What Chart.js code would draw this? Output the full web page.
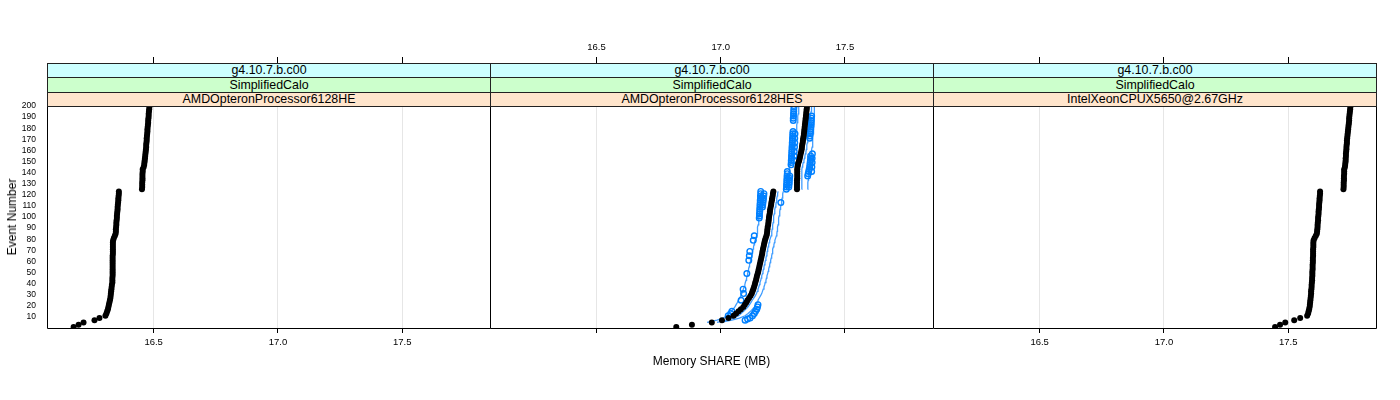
<!DOCTYPE html>
<html>
<head>
<meta charset="utf-8">
<title>Memory SHARE (MB)</title>
<script src="https://cdn.jsdelivr.net/npm/chart.js@4/dist/chart.umd.min.js"></script>
<style>
  body { margin: 0; background: #fff; font-family: "Liberation Sans", Arial, sans-serif; }
  #wrap { position: relative; width: 1400px; height: 400px; overflow: hidden; background: #fff; }
  #wrap canvas { position: absolute; top: 30px; }
  .strip { position: absolute; box-sizing: border-box; border: 1px solid #222; text-align: center;
           font-size: 12.4px; color: #000; white-space: nowrap; }
  .xtitle { position: absolute; left: 47px; width: 1329px; top: 354px; text-align: center; font-size: 12px; }
  .ytitle { position: absolute; left: 12px; top: 217px; font-size: 12px; white-space: nowrap;
            transform: translate(-50%, -50%) rotate(-90deg); }
</style>
</head>
<body>
<div id="wrap"></div>
<script>
// strip labels, one per panel
const versions = ['g4.10.7.b.c00', 'g4.10.7.b.c00', 'g4.10.7.b.c00'];
const configs = ['SimplifiedCalo', 'SimplifiedCalo', 'SimplifiedCalo'];
const processors = ['AMDOpteronProcessor6128HE', 'AMDOpteronProcessor6128HES', 'IntelXeonCPUX5650@2.67GHz'];

// axis ticks
const memTicks = [16.5, 17.0, 17.5];
const eventTicks = [10, 20, 30, 40, 50, 60, 70, 80, 90, 100, 110, 120, 130, 140, 150, 160, 170, 180, 190, 200];

// event numbers (every other event)
const events = [1, 3, 5, 7, 9, 11, 13, 15, 17, 19, 21, 23, 25, 27, 29, 31, 33, 35, 37, 39,
  41, 43, 45, 47, 49, 51, 53, 55, 57, 59, 61, 63, 65, 67, 69, 71, 73, 75, 77, 79,
  81, 83, 85, 87, 89, 91, 93, 95, 97, 99, 101, 103, 105, 107, 109, 111, 113, 115, 117, 119,
  121, 123, 125, 127, 129, 131, 133, 135, 137, 139, 141, 143, 145, 147, 149, 151, 153, 155, 157, 159,
  161, 163, 165, 167, 169, 171, 173, 175, 177, 179, 181, 183, 185, 187, 189, 191, 193, 195, 197, 199];

// memory share (MB) per event, reference run
const memHE = [16.178, 16.198, 16.218, 16.262, 16.282, 16.306, 16.310, 16.313, 16.316, 16.318,
  16.320, 16.322, 16.324, 16.326, 16.327, 16.328, 16.329, 16.330, 16.331, 16.332,
  16.334, 16.334, 16.334, 16.335, 16.335, 16.335, 16.335, 16.335, 16.335, 16.335,
  16.335, 16.335, 16.335, 16.336, 16.336, 16.336, 16.336, 16.336, 16.336, 16.337,
  16.340, 16.344, 16.347, 16.348, 16.348, 16.349, 16.350, 16.350, 16.351, 16.352,
  16.352, 16.353, 16.354, 16.355, 16.355, 16.356, 16.357, 16.358, 16.358, 16.359,
  16.360, 16.360, 16.453, 16.454, 16.454, 16.454, 16.455, 16.455, 16.455, 16.455,
  16.456, 16.456, 16.460, 16.462, 16.463, 16.464, 16.465, 16.466, 16.467, 16.468,
  16.469, 16.470, 16.470, 16.471, 16.472, 16.472, 16.473, 16.474, 16.475, 16.475,
  16.476, 16.477, 16.478, 16.478, 16.479, 16.480, 16.480, 16.481, 16.482, 16.483];

const memHES = [16.821, 16.884, 16.964, 17.005, 17.031, 17.052, 17.062, 17.072, 17.081, 17.091,
  17.097, 17.103, 17.108, 17.114, 17.120, 17.125, 17.128, 17.131, 17.134, 17.137,
  17.139, 17.142, 17.144, 17.146, 17.149, 17.151, 17.153, 17.155, 17.157, 17.159,
  17.161, 17.163, 17.165, 17.167, 17.168, 17.170, 17.172, 17.174, 17.176, 17.178,
  17.181, 17.184, 17.186, 17.187, 17.188, 17.189, 17.191, 17.192, 17.193, 17.194,
  17.195, 17.197, 17.198, 17.199, 17.201, 17.203, 17.204, 17.206, 17.207, 17.209,
  17.210, 17.212, 17.307, 17.307, 17.307, 17.307, 17.307, 17.308, 17.308, 17.308,
  17.308, 17.308, 17.309, 17.311, 17.313, 17.316, 17.318, 17.320, 17.322, 17.324,
  17.326, 17.327, 17.328, 17.330, 17.331, 17.332, 17.334, 17.335, 17.336, 17.337,
  17.338, 17.339, 17.340, 17.341, 17.342, 17.343, 17.344, 17.345, 17.346, 17.347];

const memX5650 = [17.447, 17.467, 17.488, 17.524, 17.548, 17.576, 17.580, 17.582, 17.584, 17.586,
  17.587, 17.588, 17.589, 17.590, 17.591, 17.592, 17.592, 17.593, 17.594, 17.594,
  17.595, 17.596, 17.596, 17.597, 17.597, 17.597, 17.598, 17.598, 17.598, 17.599,
  17.599, 17.599, 17.600, 17.600, 17.600, 17.600, 17.601, 17.601, 17.601, 17.602,
  17.606, 17.611, 17.615, 17.616, 17.617, 17.618, 17.618, 17.619, 17.620, 17.620,
  17.621, 17.622, 17.622, 17.623, 17.624, 17.624, 17.625, 17.626, 17.626, 17.627,
  17.628, 17.628, 17.722, 17.723, 17.723, 17.723, 17.724, 17.724, 17.724, 17.725,
  17.725, 17.725, 17.728, 17.729, 17.730, 17.731, 17.731, 17.732, 17.732, 17.733,
  17.734, 17.734, 17.735, 17.736, 17.736, 17.737, 17.738, 17.739, 17.740, 17.741,
  17.742, 17.743, 17.744, 17.745, 17.745, 17.746, 17.747, 17.748, 17.749, 17.750];

// other runs on the HES machine (blue lines)
const memHESrunA = [16.810, 16.870, 16.945, 16.985, 17.010, 17.025, 17.035, 17.043, 17.050, 17.057,
  17.062, 17.067, 17.071, 17.076, 17.081, 17.085, 17.088, 17.091, 17.094, 17.097,
  17.099, 17.102, 17.104, 17.106, 17.108, 17.110, 17.112, 17.114, 17.116, 17.118,
  17.120, 17.122, 17.124, 17.126, 17.128, 17.130, 17.132, 17.134, 17.136, 17.138,
  17.141, 17.144, 17.146, 17.147, 17.148, 17.149, 17.151, 17.152, 17.153, 17.154,
  17.155, 17.157, 17.158, 17.159, 17.160, 17.162, 17.163, 17.164, 17.165, 17.166,
  17.167, 17.168, 17.268, 17.268, 17.269, 17.270, 17.271, 17.272, 17.273, 17.274,
  17.275, 17.276, 17.278, 17.280, 17.282, 17.284, 17.286, 17.288, 17.290, 17.292,
  17.294, 17.295, 17.296, 17.298, 17.299, 17.300, 17.302, 17.303, 17.304, 17.305,
  17.306, 17.307, 17.308, 17.309, 17.310, 17.311, 17.312, 17.313, 17.314, 17.315];

const memHESrunB = [16.835, 16.900, 16.985, 17.025, 17.052, 17.072, 17.082, 17.092, 17.101, 17.110,
  17.116, 17.122, 17.127, 17.133, 17.139, 17.144, 17.147, 17.150, 17.153, 17.156,
  17.158, 17.161, 17.163, 17.165, 17.168, 17.170, 17.172, 17.174, 17.176, 17.178,
  17.180, 17.182, 17.184, 17.186, 17.187, 17.189, 17.191, 17.193, 17.195, 17.197,
  17.200, 17.203, 17.205, 17.206, 17.207, 17.208, 17.210, 17.211, 17.212, 17.213,
  17.214, 17.216, 17.217, 17.218, 17.220, 17.222, 17.223, 17.225, 17.226, 17.228,
  17.229, 17.231, 17.326, 17.326, 17.326, 17.326, 17.326, 17.327, 17.327, 17.327,
  17.327, 17.327, 17.328, 17.330, 17.332, 17.335, 17.337, 17.339, 17.341, 17.343,
  17.345, 17.346, 17.347, 17.349, 17.350, 17.351, 17.353, 17.354, 17.355, 17.356,
  17.357, 17.358, 17.359, 17.360, 17.361, 17.362, 17.363, 17.364, 17.365, 17.366];

const memHESrunC = [16.845, 16.915, 17.000, 17.045, 17.075, 17.098, 17.110, 17.120, 17.128, 17.136,
  17.141, 17.146, 17.150, 17.155, 17.160, 17.165, 17.168, 17.171, 17.174, 17.177,
  17.179, 17.182, 17.184, 17.186, 17.189, 17.191, 17.193, 17.195, 17.197, 17.199,
  17.201, 17.203, 17.205, 17.207, 17.208, 17.210, 17.212, 17.214, 17.216, 17.218,
  17.221, 17.224, 17.226, 17.227, 17.228, 17.229, 17.231, 17.232, 17.233, 17.234,
  17.235, 17.237, 17.238, 17.239, 17.241, 17.243, 17.244, 17.246, 17.247, 17.249,
  17.250, 17.252, 17.350, 17.350, 17.351, 17.351, 17.352, 17.352, 17.353, 17.353,
  17.354, 17.354, 17.355, 17.357, 17.359, 17.361, 17.363, 17.364, 17.365, 17.366,
  17.367, 17.368, 17.369, 17.370, 17.370, 17.371, 17.371, 17.372, 17.372, 17.373,
  17.373, 17.374, 17.374, 17.375, 17.375, 17.376, 17.376, 17.377, 17.377, 17.378];

// visible open circles of those runs (memory, event)
const markMem = [17.264, 17.265, 17.265, 17.266, 17.266, 17.267, 17.267, 17.268, 17.268,
  17.274, 17.275, 17.276, 17.276, 17.277, 17.278,
  17.283, 17.284, 17.284, 17.285, 17.285, 17.286, 17.286, 17.287, 17.287, 17.288, 17.288, 17.289, 17.289, 17.290, 17.290, 17.291,
  17.295, 17.296, 17.296, 17.297, 17.298, 17.298, 17.299,
  17.292, 17.292, 17.293, 17.293, 17.294, 17.294, 17.295,
  17.350, 17.352, 17.354, 17.356, 17.358, 17.359, 17.360, 17.361, 17.362, 17.362,
  17.366, 17.367, 17.368, 17.368, 17.369,
  17.358, 17.359, 17.360, 17.361, 17.362, 17.363, 17.364, 17.364, 17.365, 17.365, 17.366,
  17.155, 17.156, 17.156, 17.157, 17.157, 17.158, 17.158, 17.159, 17.159, 17.160, 17.160, 17.161, 17.161,
  17.168, 17.169, 17.170, 17.171, 17.172, 17.173, 17.174,
  17.242,
  17.131, 17.135, 17.113, 17.115, 17.117, 17.105, 17.092, 17.090, 17.082,
  17.150, 17.148, 17.145, 17.140, 17.135, 17.128, 17.118, 17.108, 17.098,
  17.040, 17.045, 17.030];
const markEvent = [125, 127, 129, 131, 133, 135, 137, 139, 141,
  127, 129, 131, 133, 135, 137,
  147, 149, 151, 153, 155, 157, 159, 161, 163, 165, 167, 169, 171, 173, 175, 177,
  151, 155, 159, 163, 167, 171, 175,
  187, 189, 191, 193, 195, 197, 199,
  137, 139, 141, 143, 145, 147, 149, 151, 153, 155,
  141, 145, 149, 153, 157,
  171, 173, 175, 177, 179, 181, 183, 185, 187, 189, 191,
  99, 101, 103, 105, 107, 109, 111, 113, 115, 117, 119, 121, 123,
  109, 111, 113, 115, 117, 119, 121,
  113,
  79, 83, 61, 65, 69, 49, 31, 35, 25,
  21, 19, 17, 15, 13, 11, 9, 8, 7,
  13, 15, 11];

const panels = [
  { black: memHE, runs: [], marks: false },
  { black: memHES, runs: [memHESrunA, memHESrunB, memHESrunC], marks: true },
  { black: memX5650, runs: [], marks: false }
];

// layout (page pixels)
const panelLeft = [47, 490, 933];
const panelWidth = 443;
const xMin = 16.071, xMax = 17.853;
const runColor = 'rgba(30,140,255,0.85)';

Chart.defaults.font.family = '"Liberation Sans", Arial, sans-serif';
Chart.defaults.color = '#000';

const wrap = document.getElementById('wrap');

function toPoints(xs) {
  return xs.map((v, i) => ({ x: v, y: events[i] }));
}

// black frame round each panel; shared edges drawn once
function panelBox(last) {
  return {
    id: 'panelBox',
    afterDraw(chart) {
      const a = chart.chartArea;
      const ctx = chart.ctx;
      const l = a.left + 0.5, r = a.right + 0.5, t = a.top + 0.5, b = a.bottom + 0.5;
      ctx.save();
      ctx.strokeStyle = '#000';
      ctx.lineWidth = 1;
      ctx.beginPath();
      ctx.moveTo(l, t); ctx.lineTo(r, t);
      ctx.moveTo(l, b); ctx.lineTo(r, b);
      ctx.moveTo(l, t); ctx.lineTo(l, b);
      if (last) { ctx.moveTo(r, t); ctx.lineTo(r, b); }
      ctx.stroke();
      ctx.restore();
    }
  };
}

panels.forEach((p, i) => {
  const canvas = document.createElement('canvas');
  canvas.width = panelWidth + 47 + 5;
  canvas.height = 340;
  canvas.style.left = (panelLeft[i] - 47) + 'px';
  wrap.appendChild(canvas);

  const datasets = [{
    data: toPoints(p.black),
    showLine: false,
    pointRadius: 3,
    pointBackgroundColor: '#000',
    pointBorderColor: '#000',
    pointBorderWidth: 0,
    clip: 0
  }];
  if (p.marks) {
    datasets.push({
      data: markMem.map((v, k) => ({ x: v, y: markEvent[k] })),
      showLine: false,
      pointRadius: 2.8,
      pointBackgroundColor: 'rgba(0,0,0,0)',
      pointBorderColor: '#0080ff',
      pointBorderWidth: 1.4,
      clip: 0
    });
  }
  p.runs.forEach(run => {
    datasets.push({
      data: toPoints(run),
      showLine: true,
      borderColor: runColor,
      borderWidth: 1.3,
      pointRadius: 0,
      segment: {
        // no connector across the jump near event 124
        borderColor: c => (c.p1.parsed.x - c.p0.parsed.x > 0.05 ? 'rgba(0,0,0,0)' : runColor)
      },
      clip: 0
    });
  });

  new Chart(canvas, {
    type: 'scatter',
    data: { datasets: datasets },
    options: {
      responsive: false,
      animation: false,
      layout: { padding: { left: 0, right: 5, top: 0, bottom: 0 } },
      plugins: { legend: { display: false }, tooltip: { enabled: false } },
      scales: {
        x: {
          type: 'linear', position: 'bottom', min: xMin, max: xMax,
          afterBuildTicks: s => { s.ticks = memTicks.map(v => ({ value: v })); },
          grid: { color: '#e6e6e6', tickColor: '#000', tickLength: 5, drawTicks: true },
          border: { display: false },
          ticks: { display: i !== 1, padding: 4, font: { size: 9.5 }, maxRotation: 0, autoSkip: false,
                   callback: v => v.toFixed(1) },
          afterFit: s => { s.height = 42; }
        },
        x2: {
          type: 'linear', position: 'top', min: xMin, max: xMax,
          afterBuildTicks: s => { s.ticks = memTicks.map(v => ({ value: v })); },
          grid: { drawOnChartArea: false, tickColor: '#000', tickLength: 49, drawTicks: true },
          border: { display: false },
          ticks: { display: i === 1, padding: 4, font: { size: 9.5 }, maxRotation: 0, autoSkip: false,
                   callback: v => v.toFixed(1) },
          afterFit: s => { s.height = 76; }
        },
        y: {
          type: 'linear', position: 'left', min: 0, max: 200,
          afterBuildTicks: s => { s.ticks = eventTicks.map(v => ({ value: v })); },
          grid: { display: false },
          border: { display: false },
          ticks: { display: i === 0, padding: 3, font: { size: 8.5 }, autoSkip: false },
          afterFit: s => { s.width = 47; }
        }
      }
    },
    plugins: [panelBox(i === panels.length - 1)]
  });

  // strips: outer level on top, panel level at bottom
  const rows = [
    { text: versions[i], top: 63, h: 15, bg: '#ccffff' },
    { text: configs[i], top: 77, h: 16, bg: '#ccffcc' },
    { text: processors[i], top: 92, h: 15, bg: '#ffe5cc' }
  ];
  rows.forEach(r => {
    const d = document.createElement('div');
    d.className = 'strip';
    d.style.left = panelLeft[i] + 'px';
    d.style.width = (panelWidth + 1) + 'px';
    d.style.top = r.top + 'px';
    d.style.height = r.h + 'px';
    d.style.lineHeight = (r.h - 2) + 'px';
    d.style.background = r.bg;
    d.textContent = r.text;
    wrap.appendChild(d);
  });
});

const xt = document.createElement('div');
xt.className = 'xtitle';
xt.textContent = 'Memory SHARE (MB)';
wrap.appendChild(xt);

const yt = document.createElement('div');
yt.className = 'ytitle';
yt.textContent = 'Event Number';
wrap.appendChild(yt);
</script>
</body>
</html>
